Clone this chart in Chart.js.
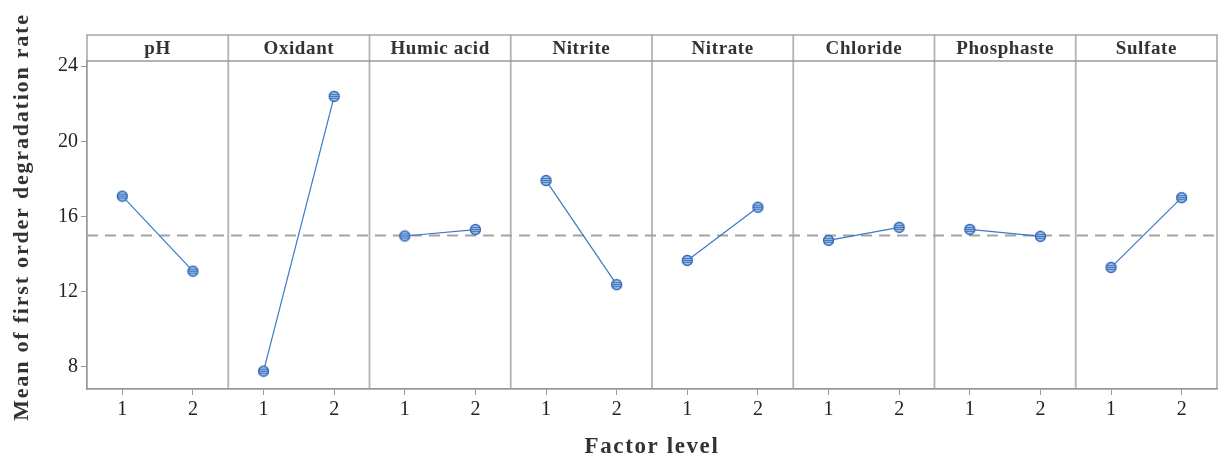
<!DOCTYPE html>
<html lang="en">
<head>
<meta charset="utf-8" />
<title>Main effects plot</title>
<script src="https://cdn.jsdelivr.net/npm/chart.js"></script>
<style>
  html, body { margin: 0; padding: 0; background: #fff; }
  #wrap { width: 1219px; height: 461px; }
</style>
</head>
<body>
<div id="wrap"><canvas id="myChart"></canvas></div>
<script>
// data
const factors = ['pH', 'Oxidant', 'Humic acid', 'Nitrite', 'Nitrate', 'Chloride', 'Phosphaste', 'Sulfate'];
const levels = ['1', '2'];
const level1Means = [17.08, 7.77, 14.96, 17.91, 13.66, 14.73, 15.31, 13.29];
const level2Means = [13.09, 22.39, 15.30, 12.37, 16.49, 15.42, 14.94, 17.00];
const grandMean = 14.98;
const yTicks = [8, 12, 16, 20, 24];

const serif = "'Liberation Serif', 'Times New Roman', serif";
const headerTop = 35;

// striped circle marker
function makeMarker() {
  const c = document.createElement('canvas');
  c.width = 13; c.height = 13;
  const g = c.getContext('2d');
  g.beginPath();
  g.arc(6.5, 6.5, 5, 0, Math.PI * 2);
  g.fillStyle = '#a9c4e8';
  g.fill();
  g.save();
  g.clip();
  g.strokeStyle = '#2b65b5';
  g.lineWidth = 0.9;
  [4.6, 6.5, 8.4].forEach(y => {
    g.beginPath(); g.moveTo(1, y); g.lineTo(12, y); g.stroke();
  });
  g.restore();
  g.beginPath();
  g.arc(6.5, 6.5, 5, 0, Math.PI * 2);
  g.lineWidth = 1.3;
  g.strokeStyle = '#2b65b5';
  g.stroke();
  return c;
}
const marker = makeMarker();

// one dataset per factor, each factor gets 2 x-units
const datasets = factors.map((f, i) => ({
  label: f,
  data: [
    { x: 2 * i + 0.5, y: level1Means[i] },
    { x: 2 * i + 1.5, y: level2Means[i] }
  ],
  borderColor: '#3b78c6',
  borderWidth: 1.2,
  pointStyle: marker,
  pointRadius: 6,
  order: 0
}));
datasets.push({
  label: 'mean',
  data: [{ x: 0, y: grandMean }, { x: factors.length * 2, y: grandMean }],
  borderColor: '#a3a3a3',
  borderWidth: 2,
  borderDash: [11, 7],
  pointRadius: 0,
  order: 10
});

// panels, header strip and axis titles
const panelPlugin = {
  id: 'panelPlugin',
  beforeDatasetsDraw(chart) {
    const { ctx, chartArea: { left, right, top, bottom }, scales: { x } } = chart;
    ctx.save();
    ctx.strokeStyle = '#b3b3b3';
    ctx.lineWidth = 1.8;
    for (let i = 1; i < factors.length; i++) {
      const px = x.getPixelForValue(2 * i);
      ctx.beginPath();
      ctx.moveTo(px, headerTop);
      ctx.lineTo(px, bottom);
      ctx.stroke();
    }
    ctx.strokeStyle = '#999';
    ctx.lineWidth = 1.3;
    ctx.strokeRect(left, headerTop, right - left, bottom - headerTop);
    ctx.beginPath();
    ctx.moveTo(left, top);
    ctx.lineTo(right, top);
    ctx.stroke();

    ctx.fillStyle = '#333';
    ctx.font = 'bold 19px ' + serif;
    ctx.letterSpacing = '0.6px';
    ctx.textAlign = 'center';
    ctx.textBaseline = 'middle';
    factors.forEach((f, i) => {
      ctx.fillText(f, x.getPixelForValue(2 * i + 1), (headerTop + top) / 2 + 1);
    });

    ctx.font = 'bold 23px ' + serif;
    ctx.letterSpacing = '1.6px';
    ctx.fillText('Factor level', (left + right) / 2, 447);

    ctx.translate(22, 217);
    ctx.rotate(-Math.PI / 2);
    ctx.font = 'bold 22px ' + serif;
    ctx.letterSpacing = '1.8px';
    ctx.fillText('Mean of first order degradation rate', 0, 0);
    ctx.restore();
  }
};

const config = {
  type: 'line',
  data: { datasets },
  options: {
    responsive: true,
    maintainAspectRatio: false,
    animation: false,
    layout: { autoPadding: false, padding: { top: 61, left: 47, right: 2, bottom: 22 } },
    plugins: { legend: { display: false }, tooltip: { enabled: false } },
    scales: {
      x: {
        type: 'linear',
        min: 0,
        max: factors.length * 2,
        afterBuildTicks: s => {
          const t = [];
          factors.forEach((f, i) => levels.forEach((l, j) => t.push({ value: 2 * i + j + 0.5 })));
          s.ticks = t;
        },
        afterFit: s => { s.height = 50; s.paddingLeft = 0; s.paddingRight = 0; },
        ticks: {
          callback: v => levels[Math.round(v - 0.5) % 2],
          color: '#222',
          font: { family: serif, size: 20 },
          padding: 3,
          maxRotation: 0,
          autoSkip: false
        },
        grid: { drawOnChartArea: false, tickLength: 6, color: '#999' },
        border: { color: '#999', width: 1.3 }
      },
      y: {
        min: 6.82,
        max: 24.27,
        afterBuildTicks: s => { s.ticks = yTicks.map(v => ({ value: v })); },
        afterFit: s => { s.width = 40; s.paddingTop = 0; s.paddingBottom = 0; },
        ticks: {
          color: '#222',
          font: { family: serif, size: 20 },
          padding: 3
        },
        grid: { drawOnChartArea: false, tickLength: 6, color: '#999' },
        border: { color: '#999', width: 1.3 }
      }
    }
  },
  plugins: [panelPlugin]
};

const myChart = new Chart(document.getElementById('myChart'), config);
</script>
</body>
</html>
